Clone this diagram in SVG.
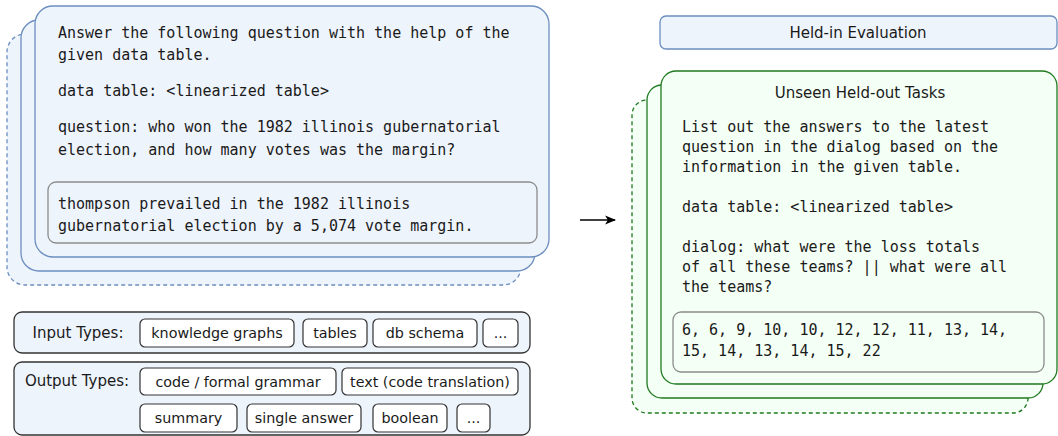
<svg xmlns="http://www.w3.org/2000/svg" width="1058" height="436" viewBox="0 0 1058 436">
<style>
.bluebox{fill:#eef4fc;stroke:#6c8ebf;stroke-width:1.3}
.bluedash{fill:#eef4fc;stroke:#6c8ebf;stroke-width:1.3;stroke-dasharray:4 3}
.greenbox{fill:#f4fff5;stroke:#1f7a1f;stroke-width:1.3}
.greendash{fill:#f4fff5;stroke:#1f7a1f;stroke-width:1.3;stroke-dasharray:4 3}
.inner{fill:none;stroke:#8c8c8c;stroke-width:1.3}
.typebox{fill:#eef4fc;stroke:#333333;stroke-width:1.3}
.pill{fill:#ffffff;stroke:#333333;stroke-width:1.2}
.mono{font-family:"DejaVu Sans Mono","Liberation Mono",monospace;font-size:15px;fill:#1a1a1a}
.sans{font-family:"DejaVu Sans","Liberation Sans",sans-serif;font-size:15px;fill:#1a1a1a}
.pt{font-size:14.3px}
.c{text-anchor:middle}
</style>
<defs>
<marker id="arr" viewBox="0 0 10 10" refX="9" refY="5" markerWidth="11" markerHeight="11" markerUnits="userSpaceOnUse" orient="auto">
<path d="M0,1 L10,5 L0,9 L2.5,5 Z" fill="#000"/>
</marker>
</defs>

<g id="held-in-stack">
<rect class="bluedash" x="7" y="34" width="514" height="251" rx="18"/>
<rect class="bluebox" x="21" y="20" width="514" height="251" rx="18"/>
<rect class="bluebox" x="35" y="6" width="514" height="251" rx="18"/>
<text class="mono" x="58" y="38">Answer the following question with the help of the</text>
<text class="mono" x="58" y="60">given data table.</text>
<text class="mono" x="58" y="96">data table: &lt;linearized table&gt;</text>
<text class="mono" x="58" y="132">question: who won the 1982 illinois gubernatorial</text>
<text class="mono" x="58" y="155">election, and how many votes was the margin?</text>
<rect class="inner" x="48" y="182" width="489" height="61" rx="8"/>
<text class="mono" x="58" y="209">thompson prevailed in the 1982 illinois</text>
<text class="mono" x="58" y="231">gubernatorial election by a 5,074 vote margin.</text>
</g>

<g id="input-types">
<rect class="typebox" x="14" y="312" width="516" height="41" rx="8"/>
<text class="sans c" x="78" y="338">Input Types:</text>
<rect class="pill" x="140" y="319" width="154" height="28" rx="5"/>
<text class="sans pt c" x="217" y="338">knowledge graphs</text>
<rect class="pill" x="303" y="319" width="64" height="28" rx="5"/>
<text class="sans pt c" x="335" y="338">tables</text>
<rect class="pill" x="373" y="319" width="104" height="28" rx="5"/>
<text class="sans pt c" x="425" y="338">db schema</text>
<rect class="pill" x="483" y="319" width="35" height="28" rx="5"/>
<text class="sans pt c" x="500.5" y="338">...</text>
</g>

<g id="output-types">
<rect class="typebox" x="14" y="362" width="516" height="73" rx="8"/>
<text class="sans c" x="77" y="386">Output Types:</text>
<rect class="pill" x="140" y="368" width="196" height="27" rx="5"/>
<text class="sans pt c" x="238" y="387">code / formal grammar</text>
<rect class="pill" x="342" y="368" width="176" height="27" rx="5"/>
<text class="sans pt c" x="430" y="387">text (code translation)</text>
<rect class="pill" x="140" y="404" width="97" height="28" rx="5"/>
<text class="sans pt c" x="188.5" y="423">summary</text>
<rect class="pill" x="247" y="404" width="114" height="28" rx="5"/>
<text class="sans pt c" x="304" y="423">single answer</text>
<rect class="pill" x="373" y="404" width="74" height="28" rx="5"/>
<text class="sans pt c" x="410" y="423">boolean</text>
<rect class="pill" x="457" y="404" width="33" height="28" rx="5"/>
<text class="sans pt c" x="473.5" y="423">...</text>
</g>

<g id="held-in-evaluation">
<rect class="bluebox" x="660" y="16" width="397" height="33" rx="6"/>
<text class="sans c" x="858" y="38">Held-in Evaluation</text>
</g>

<g id="held-out-stack">
<rect class="greendash" x="632" y="100" width="396" height="313" rx="15"/>
<rect class="greenbox" x="647" y="85" width="396" height="313" rx="15"/>
<rect class="greenbox" x="661" y="71" width="396" height="313" rx="15"/>
<text class="sans c" x="860" y="98">Unseen Held-out Tasks</text>
<text class="mono" x="682" y="132">List out the answers to the latest</text>
<text class="mono" x="682" y="152">question in the dialog based on the</text>
<text class="mono" x="682" y="172">information in the given table.</text>
<text class="mono" x="682" y="212">data table: &lt;linearized table&gt;</text>
<text class="mono" x="682" y="252">dialog: what were the loss totals</text>
<text class="mono" x="682" y="272">of all these teams? || what were all</text>
<text class="mono" x="682" y="292">the teams?</text>
<rect class="inner" x="673" y="312" width="371" height="60" rx="8"/>
<text class="mono" x="682" y="335">6, 6, 9, 10, 10, 12, 12, 11, 13, 14,</text>
<text class="mono" x="682" y="356">15, 14, 13, 14, 15, 22</text>
</g>

<g id="connectors">
<line x1="580" y1="220" x2="615" y2="220" stroke="#000" stroke-width="1.3" marker-end="url(#arr)"/>
</g>
</svg>
